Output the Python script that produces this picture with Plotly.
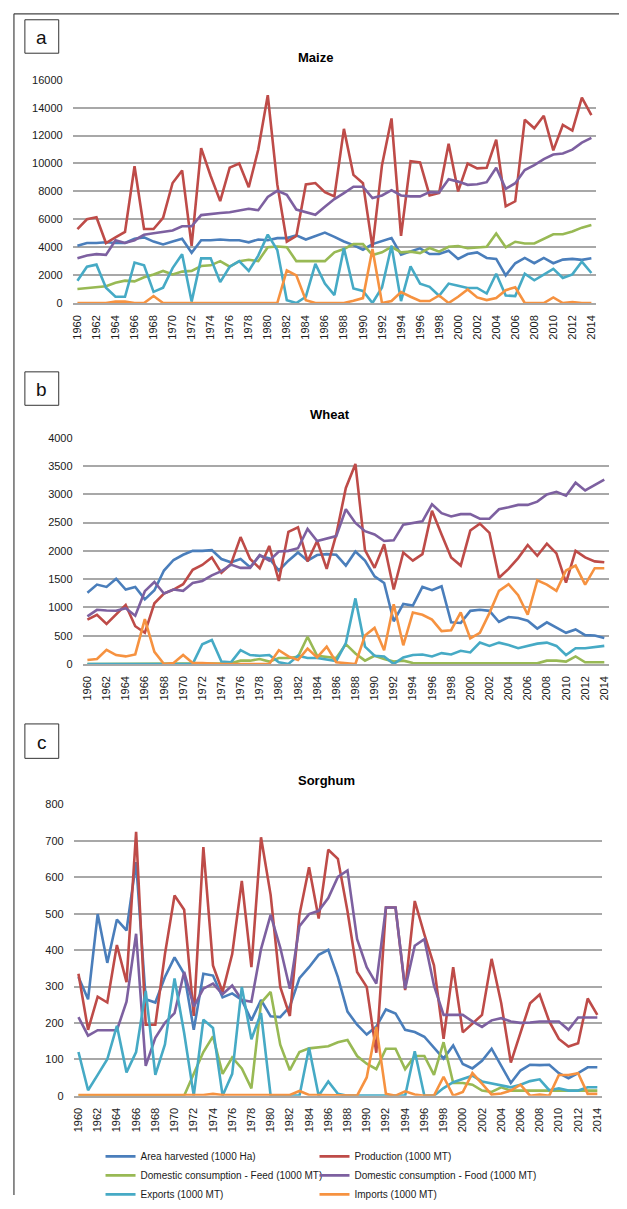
import plotly.graph_objects as go

# ---------------- data ----------------
years = list(range(1960, 2015))
tick_years = list(range(1960, 2015, 2))
tick_labels = [str(y) for y in tick_years]

series_names = [
    "Area harvested (1000 Ha)",
    "Production (1000 MT)",
    "Domestic consumption - Feed (1000 MT)",
    "Domestic consumption - Food (1000 MT)",
    "Exports (1000 MT)",
    "Imports (1000 MT)",
]
series_colors = ["#4A7EBB", "#BE4B48", "#98B954", "#7D60A0", "#46AAC5", "#F69240"]
# legend column for each series (two-column legend as in the original)
series_legend = ["legend", "legend2", "legend", "legend2", "legend", "legend2"]

# Maize
maize_area = [4100, 4300, 4300, 4350, 4300, 4300, 4600, 4700, 4400, 4200,
              4400, 4600, 3600, 4500, 4500, 4550, 4500, 4500, 4350, 4550,
              4500, 4650, 4650, 4850, 4550, 4800, 5050, 4740, 4410, 4150,
              3820, 4220, 4410, 4650, 3470, 3680, 3920, 3510, 3510, 3750,
              3160, 3510, 3630, 3230, 3160, 1980, 2850, 3230, 2850, 3230,
              2850, 3110, 3160, 3090, 3210]
maize_prod = [5300, 6000, 6150, 4300, 4700, 5100, 9800, 5300, 5300, 6100,
              8600, 9500, 4100, 11100, 9100, 7300, 9700, 10000, 8300, 11000,
              14900, 8500, 4400, 4800, 8500, 8600, 7950, 7640, 12480, 9180,
              8590, 3990, 9880, 13230, 4810, 10160, 10070, 7710, 7880, 11420,
              8000, 10000, 9650, 9690, 11700, 6930, 7290, 13140, 12520, 13420,
              10940, 12760, 12360, 14720, 13470]
maize_feed = [1000, 1050, 1100, 1200, 1450, 1600, 1550, 1850, 2050, 2300,
              2050, 2250, 2300, 2650, 2700, 3000, 2600, 3000, 3100, 3000,
              4000, 4050, 4000, 3000, 3000, 3000, 3000, 3630, 3870, 4220,
              4220, 3440, 3630, 4030, 3630, 3680, 3580, 3940, 3680, 4030,
              4080, 3920, 3990, 4030, 4980, 3990, 4390, 4270, 4270, 4620,
              4930, 4930, 5120, 5400, 5590]
maize_food = [3200, 3400, 3500, 3450, 4500, 4300, 4500, 4900, 5000, 5100,
              5200, 5500, 5500, 6300, 6400, 6450, 6500, 6600, 6750, 6650,
              7600, 8040, 7760, 6700, 6530, 6320, 6900, 7450, 7880, 8330,
              8330, 7520, 7710, 8090, 7710, 7640, 7640, 7950, 7920, 8870,
              8700, 8470, 8510, 8660, 9690, 8180, 8590, 9530, 9880, 10310,
              10640, 10710, 10990, 11490, 11840]
maize_exp = [1600, 2600, 2750, 1100, 450, 450, 2900, 2700, 800, 1100,
             2500, 3500, 100, 3200, 3200, 1500, 2600, 3000, 2300, 3400,
             4900, 3800, 200, 0, 450, 2800, 1390, 570, 3940, 1040,
             870, 0, 1110, 4100, 140, 2620, 1390, 1160, 520, 1390,
             1230, 1080, 1080, 680, 2100, 540, 500, 2100, 1630, 2050,
             2450, 1790, 2050, 2970, 2150]
maize_imp = [0, 0, 0, 0, 100, 100, 0, 0, 500, 0,
             0, 0, 0, 0, 0, 0, 0, 0, 0, 0,
             0, 0, 2330, 1980, 200, 0, 0, 0, 0, 165,
             350, 3870, 0, 140, 780, 450, 140, 140, 540, 0,
             450, 970, 400, 210, 350, 920, 1130, 0, 0, 0,
             400, 0, 70, 0, 0]

# Wheat
wheat_area = [1258, 1403, 1362, 1507, 1316, 1362, 1142, 1304, 1652, 1838,
              1930, 2000, 2000, 2012, 1855, 1797, 1855, 1710, 1913, 1867,
              1652, 1826, 1971, 1826, 1925, 1942, 1930, 1739, 1988, 1826,
              1548, 1432, 754, 1061, 1032, 1362, 1304, 1374, 736, 725,
              939, 957, 939, 742, 829, 812, 765, 626, 736, 638,
              551, 609, 510, 504, 458]
wheat_prod = [783, 870, 707, 881, 1043, 667, 551, 1072, 1246, 1316,
              1409, 1664, 1751, 1884, 1611, 1768, 2243, 1855, 1693, 2087,
              1467, 2336, 2417, 1814, 2174, 1681, 2290, 3113, 3536, 2012,
              1699, 2116, 1316, 1971, 1826, 1942, 2707, 2290, 1884, 1739,
              2359, 2481, 2319, 1525, 1681, 1872, 2104, 1913, 2128, 1954,
              1438, 2000, 1884, 1814, 1797]
wheat_feed = [0, 0, 0, 0, 0, 0, 0, 0, 0, 0,
              0, 0, 0, 0, 0, 10, 58, 58, 87, 41,
              104, 104, 128, 481, 145, 128, 104, 350, 186, 58,
              145, 87, 41, 58, 17, 10, 10, 10, 10, 10,
              10, 10, 10, 10, 10, 10, 10, 10, 58, 58,
              41, 133, 29, 29, 29]
wheat_food = [841, 957, 945, 940, 986, 852, 1287, 1449, 1246, 1316,
              1293, 1432, 1467, 1565, 1641, 1757, 1699, 1699, 1925, 1826,
              1988, 2000, 2046, 2388, 2174, 2214, 2261, 2736, 2493, 2348,
              2290, 2174, 2186, 2464, 2499, 2522, 2823, 2667, 2609, 2649,
              2649, 2568, 2568, 2736, 2771, 2812, 2812, 2870, 2997, 3043,
              2974, 3206, 3067, 3159, 3258]
wheat_exp = [0, 0, 0, 0, 0, 0, 0, 0, 0, 0,
             0, 0, 348, 423, 41, 29, 243, 157, 145, 157,
             29, 0, 145, 104, 104, 75, 52, 370, 1159, 307,
             145, 133, 0, 116, 157, 168, 133, 191, 168, 232,
             203, 377, 319, 377, 336, 278, 319, 359, 377, 319,
             157, 278, 278, 301, 319]
wheat_imp = [70, 87, 250, 157, 133, 168, 794, 214, 0, 17,
             157, 17, 17, 5, 0, 0, 0, 0, 0, 0,
             243, 133, 70, 272, 116, 307, 29, 10, 0, 504,
             638, 243, 1055, 330, 910, 870, 783, 580, 597, 910,
             452, 551, 899, 1293, 1409, 1217, 870, 1478, 1403, 1293,
             1652, 1739, 1403, 1693, 1693]

# Sorghum
sorghum_area = [326, 265, 499, 365, 484, 454, 642, 265, 256, 326,
                380, 335, 181, 335, 330, 270, 281, 263, 207, 263,
                218, 216, 245, 323, 353, 387, 401, 326, 231, 195,
                168, 190, 237, 226, 181, 175, 162, 132, 102, 138,
                87, 75, 96, 129, 82, 35, 69, 85, 84, 85,
                62, 48, 62, 78, 78]
sorghum_prod = [335, 181, 272, 256, 414, 312, 725, 195, 195, 389,
                550, 511, 219, 683, 358, 285, 389, 590, 353, 710,
                552, 299, 219, 497, 628, 487, 676, 651, 507, 340,
                299, 118, 517, 517, 290, 535, 443, 358, 156, 353,
                174, 198, 222, 376, 254, 91, 172, 254, 278, 204,
                156, 135, 144, 267, 222]
sorghum_feed = [0, 0, 0, 0, 0, 0, 0, 0, 0, 0,
                0, 0, 60, 120, 163, 60, 105, 75, 20, 255,
                285, 140, 70, 120, 130, 132, 136, 147, 153, 109,
                88, 73, 129, 129, 73, 109, 109, 57, 147, 35,
                35, 30, 14, 10, 23, 14, 14, 14, 14, 14,
                14, 14, 14, 14, 14]
sorghum_food = [216, 165, 180, 181, 180, 258, 445, 82, 159, 200,
                227, 340, 245, 294, 308, 279, 303, 263, 258, 403,
                497, 407, 294, 466, 499, 508, 543, 601, 619, 430,
                353, 308, 517, 517, 294, 412, 430, 303, 222, 222,
                222, 204, 189, 207, 213, 204, 200, 201, 204, 204,
                204, 181, 215, 215, 215]
sorghum_exp = [120, 15, 57, 100, 192, 64, 120, 288, 57, 141,
               322, 172, 0, 209, 186, 0, 60, 299, 155, 227,
               0, 0, 0, 0, 132, 0, 39, 5, 0, 0,
               0, 0, 0, 0, 0, 122, 0, 0, 21, 37,
               46, 55, 39, 33, 28, 23, 30, 40, 45, 15,
               20, 14, 14, 23, 23]
sorghum_imp = [2, 2, 2, 2, 2, 2, 2, 2, 3, 3,
               2, 2, 2, 2, 5, 2, 2, 2, 3, 2,
               2, 2, 2, 13, 2, 2, 2, 2, 0, 0,
               50, 189, 5, 0, 12, 3, 0, 0, 52, 0,
               10, 62, 33, 3, 6, 14, 30, 0, 3, 0,
               57, 57, 62, 5, 5]

# ---------------- layout helpers (pixel geometry) ----------------
W, H = 627, 1209


def px_x(x):
    return x / W


def px_y(y):
    return 1 - y / H


panels = [
    dict(title="Maize", label="a",
         series=[maize_area, maize_prod, maize_feed, maize_food, maize_exp, maize_imp],
         ymax=16000, dtick=2000, xpx=(71, 597), ypx=(75, 302),
         title_pos=(315, 52), box=(23, 14, 57, 48)),
    dict(title="Wheat", label="b",
         series=[wheat_area, wheat_prod, wheat_feed, wheat_food, wheat_exp, wheat_imp],
         ymax=4000, dtick=500, xpx=(81, 610), ypx=(439, 669),
         title_pos=(330, 415), box=(23, 372, 57, 406)),
    dict(title="Sorghum", label="c",
         series=[sorghum_area, sorghum_prod, sorghum_feed, sorghum_food, sorghum_exp, sorghum_imp],
         ymax=800, dtick=100, xpx=(72, 603), ypx=(812, 1108),
         title_pos=(326, 788), box=(23, 730, 57, 765)),
]

FONT = "Liberation Sans, Arial, sans-serif"
GRID = "#a8a8a8"

fig = go.Figure()
shapes = []
annotations = []

for i, p in enumerate(panels):
    k = "" if i == 0 else str(i + 1)
    xa, ya = "x" + k, "y" + k
    last = (i == len(panels) - 1)
    for name, color, leg, vals in zip(series_names, series_colors, series_legend, p["series"]):
        fig.add_trace(go.Scatter(
            x=years, y=vals, mode="lines", name=name,
            line=dict(color=color, width=2.6),
            xaxis=xa, yaxis=ya,
            showlegend=last, legend=leg,
        ))
    x0, x1 = p["xpx"]
    yt, yb = p["ypx"]
    fig.update_layout(**{
        "xaxis" + k: dict(
            domain=[px_x(x0), px_x(x1)], anchor=ya,
            range=[1959.5, 2014.5], tickmode="array",
            tickvals=tick_years, ticktext=tick_labels, tickangle=-90,
            showgrid=False, zeroline=False, showline=True,
            linecolor=GRID, linewidth=1.5, ticks="",
            ticklabelstandoff=6,
            tickfont=dict(family=FONT, size=11, color="#1a1a1a"),
        ),
        "yaxis" + k: dict(
            domain=[px_y(yb), px_y(yt)], anchor=xa,
            range=[0, p["ymax"]], dtick=p["dtick"], tick0=0,
            tickformat="d",
            showgrid=True, gridcolor=GRID, gridwidth=1.5,
            zeroline=False, showline=False, ticks="",
            ticklabelstandoff=9,
            tickfont=dict(family=FONT, size=11, color="#1a1a1a"),
        ),
    })
    tx, ty = p["title_pos"]
    annotations.append(dict(
        x=px_x(tx), y=px_y(ty), xref="paper", yref="paper",
        text="<b>%s</b>" % p["title"], showarrow=False,
        xanchor="center", yanchor="middle",
        font=dict(family=FONT, size=13, color="#000000"),
    ))
    bx0, by0, bx1, by1 = p["box"]
    shapes.append(dict(type="rect", xref="paper", yref="paper",
                       x0=px_x(bx0), x1=px_x(bx1), y0=px_y(by1), y1=px_y(by0),
                       line=dict(color="#333333", width=1), fillcolor="white"))
    annotations.append(dict(
        x=px_x((bx0 + bx1) / 2), y=px_y((by0 + by1) / 2 + 1), xref="paper", yref="paper",
        text=p["label"], showarrow=False, xanchor="center", yanchor="middle",
        font=dict(family="Liberation Sans Narrow, Arial Narrow, sans-serif", size=19, color="#111111"),
    ))

# outer frame (top and left edges)
shapes.append(dict(type="line", xref="paper", yref="paper",
                   x0=px_x(12), x1=px_x(620), y0=px_y(8), y1=px_y(8),
                   line=dict(color="#444444", width=1.2)))
shapes.append(dict(type="line", xref="paper", yref="paper",
                   x0=px_x(12), x1=px_x(12), y0=px_y(8), y1=0,
                   line=dict(color="#444444", width=1.2)))

legend_common = dict(
    orientation="v", xanchor="left", yanchor="top",
    font=dict(family=FONT, size=10, color="#1a1a1a"),
    bgcolor="rgba(0,0,0,0)", tracegroupgap=0, itemwidth=30,
)

fig.update_layout(
    width=W, height=H, autosize=False,
    margin=dict(l=0, r=0, t=0, b=0),
    paper_bgcolor="white", plot_bgcolor="white",
    shapes=shapes, annotations=annotations,
    showlegend=True,
    legend=dict(x=px_x(99), y=px_y(1155), **legend_common),
    legend2=dict(x=px_x(314), y=px_y(1155), **legend_common),
)

fig.write_html(
    "out.html",
    config={"displayModeBar": False},
    post_script="document.body.style.margin='0';document.documentElement.style.overflow='hidden';",
)
